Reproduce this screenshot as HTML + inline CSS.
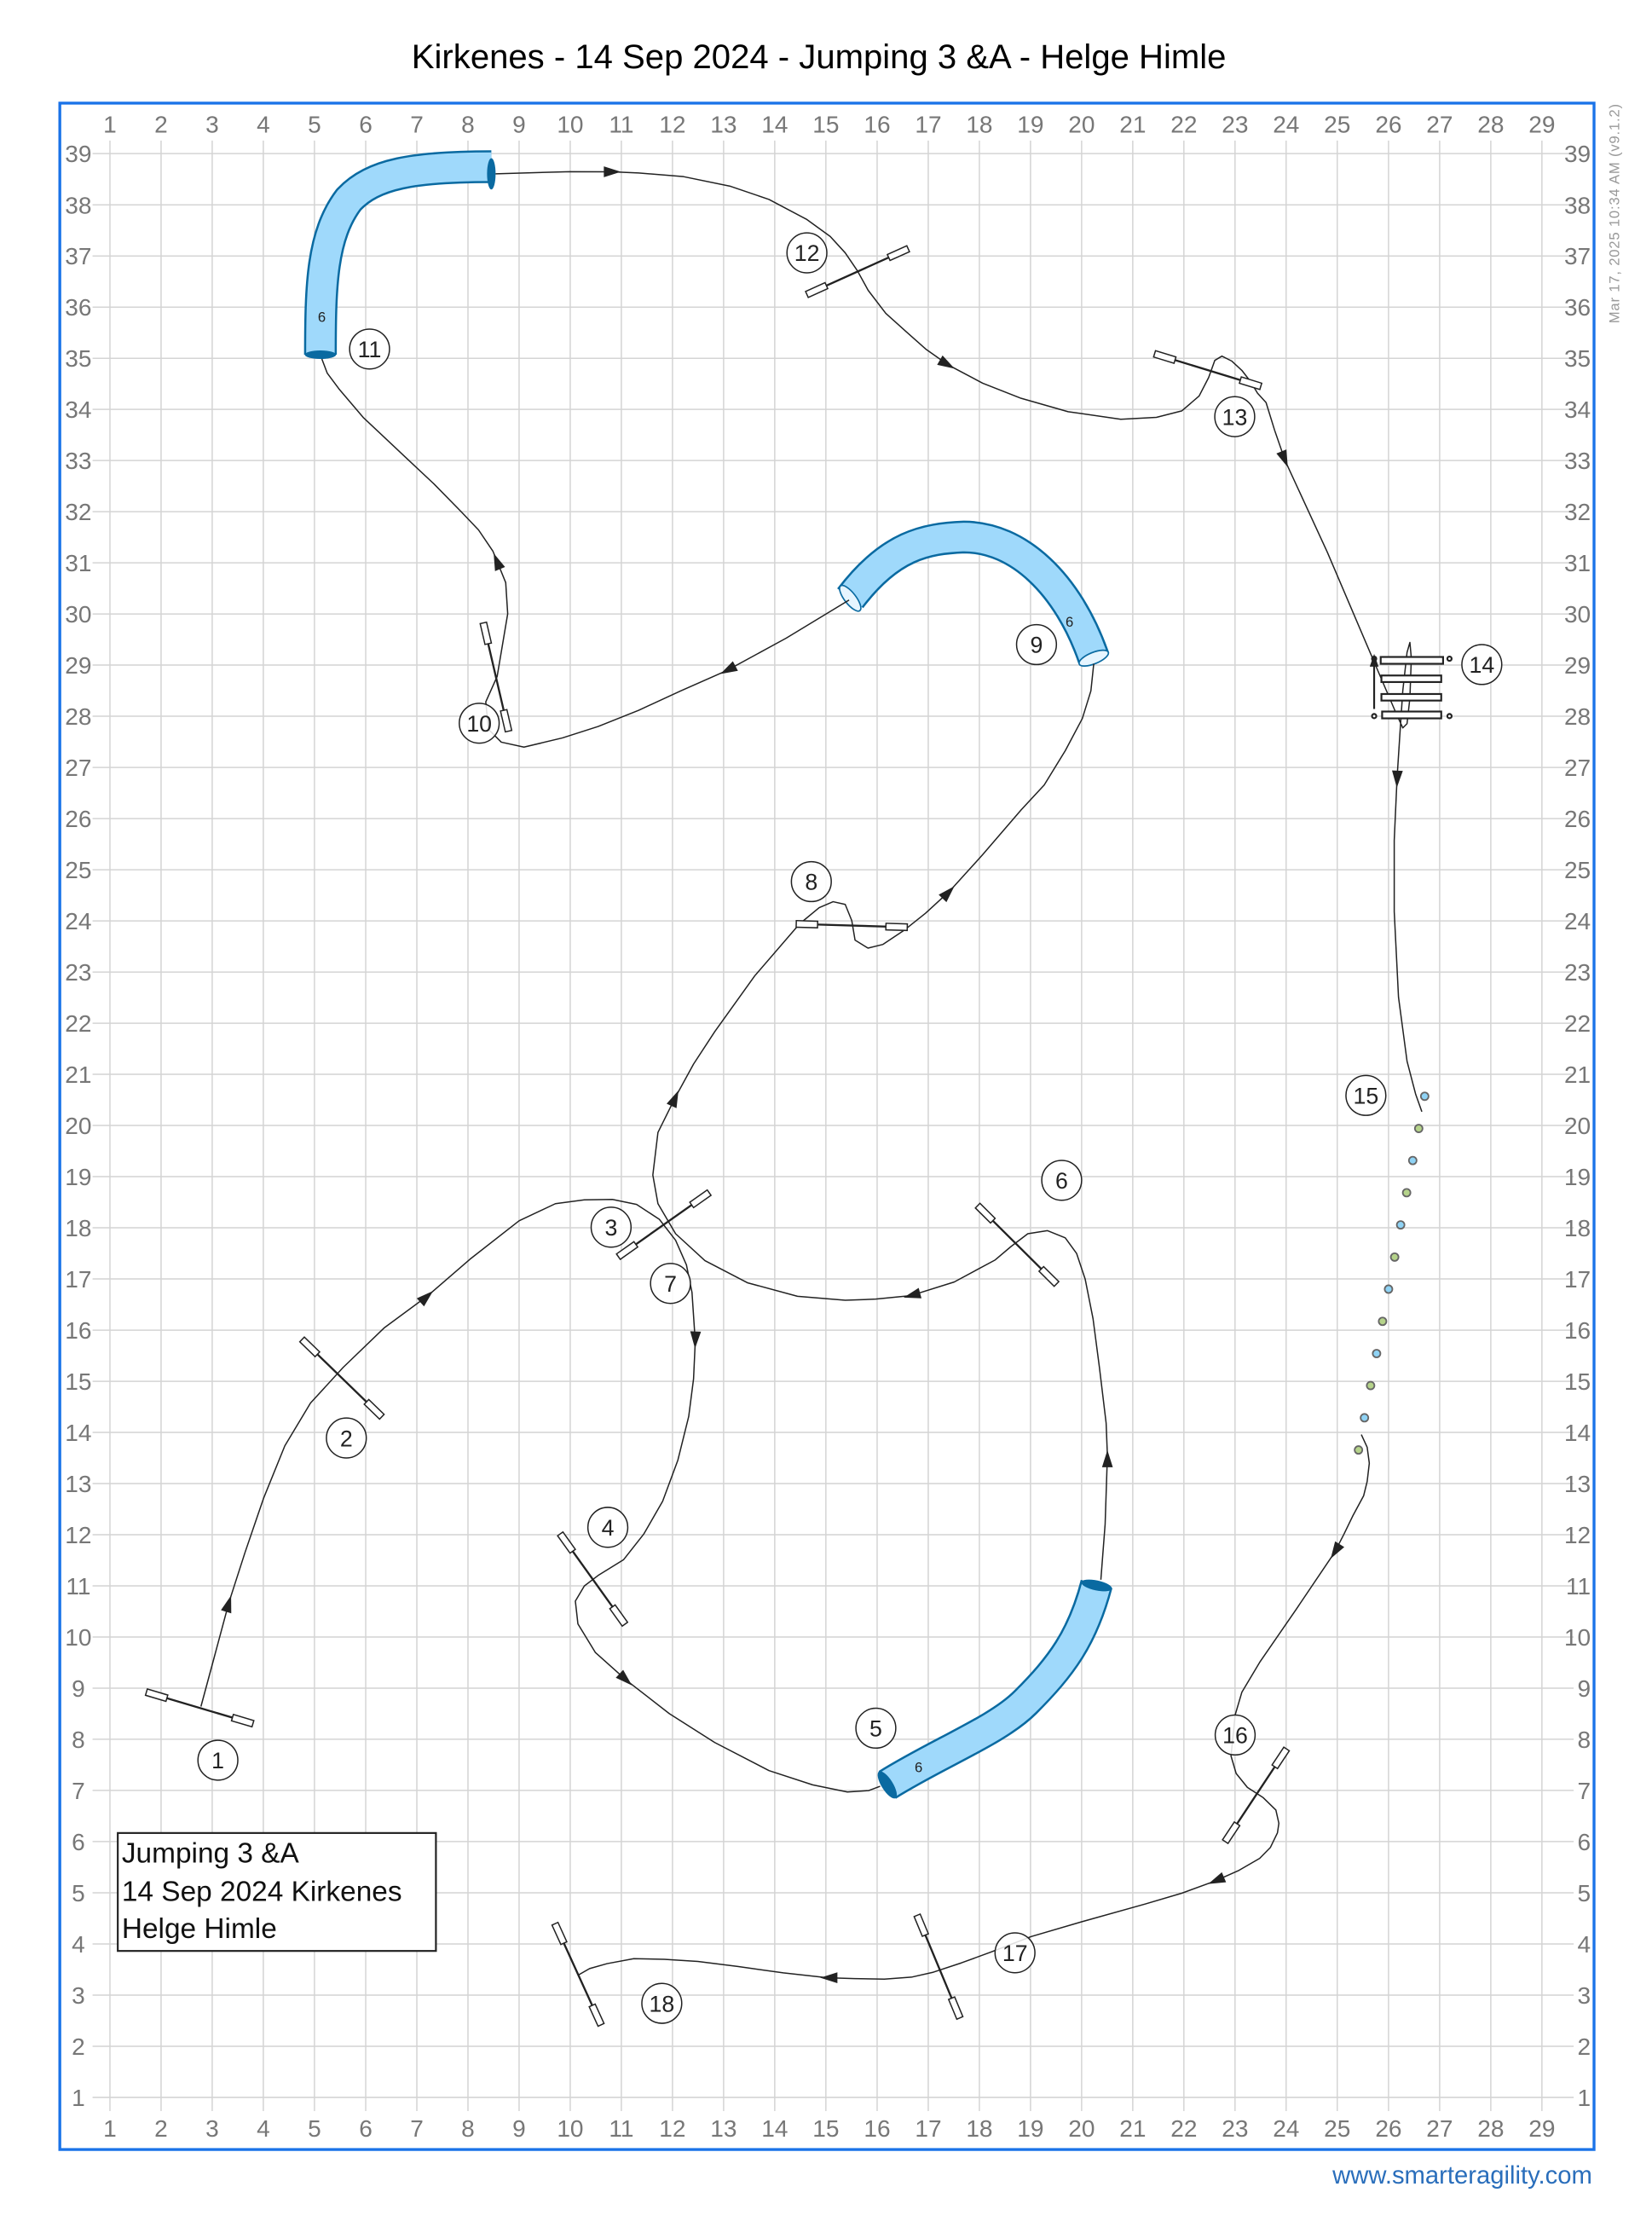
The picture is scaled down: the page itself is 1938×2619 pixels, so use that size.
<!DOCTYPE html>
<html><head><meta charset="utf-8"><style>
html,body{margin:0;padding:0;background:#fff}
svg{display:block}
text{font-family:"Liberation Sans",Arial,sans-serif}
</style></head><body>
<svg xmlns="http://www.w3.org/2000/svg" width="1938" height="2619" viewBox="0 0 1160 1567.6">
<rect x="0" y="0" width="1160" height="1567.6" fill="#fff"/>
<text x="575" y="48" font-size="24" text-anchor="middle" fill="#000">Kirkenes - 14 Sep 2024 - Jumping 3 &amp;A - Helge Himle</text>
<text transform="translate(1137,150) rotate(-90)" font-size="10" text-anchor="middle" fill="#999" textLength="154">Mar 17, 2025 10:34 AM  (v9.1.2)</text>
<text x="1118" y="1533" font-size="17.5" text-anchor="end" fill="#2a6ebb">www.smarteragility.com</text>

<g id="grid" stroke="#d4d4d4" stroke-width="0.9">
<g id="vl"></g>
</g>
<g stroke="#d4d4d4" stroke-width="0.9">
<line x1="77.2" y1="98.7" x2="77.2" y2="1482"/><line x1="113.1" y1="98.7" x2="113.1" y2="1482"/><line x1="149" y1="98.7" x2="149" y2="1482"/><line x1="184.9" y1="98.7" x2="184.9" y2="1482"/><line x1="220.8" y1="98.7" x2="220.8" y2="1482"/><line x1="256.8" y1="98.7" x2="256.8" y2="1482"/><line x1="292.7" y1="98.7" x2="292.7" y2="1482"/><line x1="328.6" y1="98.7" x2="328.6" y2="1482"/><line x1="364.5" y1="98.7" x2="364.5" y2="1482"/><line x1="400.4" y1="98.7" x2="400.4" y2="1482"/><line x1="436.3" y1="98.7" x2="436.3" y2="1482"/><line x1="472.2" y1="98.7" x2="472.2" y2="1482"/><line x1="508.1" y1="98.7" x2="508.1" y2="1482"/><line x1="544" y1="98.7" x2="544" y2="1482"/><line x1="579.9" y1="98.7" x2="579.9" y2="1482"/><line x1="615.9" y1="98.7" x2="615.9" y2="1482"/><line x1="651.8" y1="98.7" x2="651.8" y2="1482"/><line x1="687.7" y1="98.7" x2="687.7" y2="1482"/><line x1="723.6" y1="98.7" x2="723.6" y2="1482"/><line x1="759.5" y1="98.7" x2="759.5" y2="1482"/><line x1="795.4" y1="98.7" x2="795.4" y2="1482"/><line x1="831.3" y1="98.7" x2="831.3" y2="1482"/><line x1="867.2" y1="98.7" x2="867.2" y2="1482"/><line x1="903.1" y1="98.7" x2="903.1" y2="1482"/><line x1="939" y1="98.7" x2="939" y2="1482"/><line x1="975" y1="98.7" x2="975" y2="1482"/><line x1="1010.9" y1="98.7" x2="1010.9" y2="1482"/><line x1="1046.8" y1="98.7" x2="1046.8" y2="1482"/><line x1="1082.7" y1="98.7" x2="1082.7" y2="1482"/>
<line x1="65" y1="1472.4" x2="1105" y2="1472.4"/><line x1="65" y1="1436.5" x2="1105" y2="1436.5"/><line x1="65" y1="1400.6" x2="1105" y2="1400.6"/><line x1="65" y1="1364.7" x2="1105" y2="1364.7"/><line x1="65" y1="1328.8" x2="1105" y2="1328.8"/><line x1="65" y1="1292.8" x2="1105" y2="1292.8"/><line x1="65" y1="1256.9" x2="1105" y2="1256.9"/><line x1="65" y1="1221" x2="1105" y2="1221"/><line x1="65" y1="1185.1" x2="1105" y2="1185.1"/><line x1="65" y1="1149.2" x2="1105" y2="1149.2"/><line x1="65" y1="1113.3" x2="1105" y2="1113.3"/><line x1="65" y1="1077.4" x2="1105" y2="1077.4"/><line x1="65" y1="1041.5" x2="1105" y2="1041.5"/><line x1="65" y1="1005.6" x2="1105" y2="1005.6"/><line x1="65" y1="969.7" x2="1105" y2="969.7"/><line x1="65" y1="933.8" x2="1105" y2="933.8"/><line x1="65" y1="897.8" x2="1105" y2="897.8"/><line x1="65" y1="861.9" x2="1105" y2="861.9"/><line x1="65" y1="826" x2="1105" y2="826"/><line x1="65" y1="790.1" x2="1105" y2="790.1"/><line x1="65" y1="754.2" x2="1105" y2="754.2"/><line x1="65" y1="718.3" x2="1105" y2="718.3"/><line x1="65" y1="682.4" x2="1105" y2="682.4"/><line x1="65" y1="646.5" x2="1105" y2="646.5"/><line x1="65" y1="610.6" x2="1105" y2="610.6"/><line x1="65" y1="574.7" x2="1105" y2="574.7"/><line x1="65" y1="538.8" x2="1105" y2="538.8"/><line x1="65" y1="502.8" x2="1105" y2="502.8"/><line x1="65" y1="466.9" x2="1105" y2="466.9"/><line x1="65" y1="431" x2="1105" y2="431"/><line x1="65" y1="395.1" x2="1105" y2="395.1"/><line x1="65" y1="359.2" x2="1105" y2="359.2"/><line x1="65" y1="323.3" x2="1105" y2="323.3"/><line x1="65" y1="287.4" x2="1105" y2="287.4"/><line x1="65" y1="251.5" x2="1105" y2="251.5"/><line x1="65" y1="215.6" x2="1105" y2="215.6"/><line x1="65" y1="179.7" x2="1105" y2="179.7"/><line x1="65" y1="143.8" x2="1105" y2="143.8"/><line x1="65" y1="107.8" x2="1105" y2="107.8"/>
</g>

<g font-size="16.8" fill="#777" text-anchor="middle">
<text x="77.2" y="93">1</text><text x="113.1" y="93">2</text><text x="149" y="93">3</text><text x="184.9" y="93">4</text><text x="220.8" y="93">5</text><text x="256.8" y="93">6</text><text x="292.7" y="93">7</text><text x="328.6" y="93">8</text><text x="364.5" y="93">9</text><text x="400.4" y="93">10</text><text x="436.3" y="93">11</text><text x="472.2" y="93">12</text><text x="508.1" y="93">13</text><text x="544" y="93">14</text><text x="579.9" y="93">15</text><text x="615.9" y="93">16</text><text x="651.8" y="93">17</text><text x="687.7" y="93">18</text><text x="723.6" y="93">19</text><text x="759.5" y="93">20</text><text x="795.4" y="93">21</text><text x="831.3" y="93">22</text><text x="867.2" y="93">23</text><text x="903.1" y="93">24</text><text x="939" y="93">25</text><text x="975" y="93">26</text><text x="1010.9" y="93">27</text><text x="1046.8" y="93">28</text><text x="1082.7" y="93">29</text>
<text x="77.2" y="1500">1</text><text x="113.1" y="1500">2</text><text x="149" y="1500">3</text><text x="184.9" y="1500">4</text><text x="220.8" y="1500">5</text><text x="256.8" y="1500">6</text><text x="292.7" y="1500">7</text><text x="328.6" y="1500">8</text><text x="364.5" y="1500">9</text><text x="400.4" y="1500">10</text><text x="436.3" y="1500">11</text><text x="472.2" y="1500">12</text><text x="508.1" y="1500">13</text><text x="544" y="1500">14</text><text x="579.9" y="1500">15</text><text x="615.9" y="1500">16</text><text x="651.8" y="1500">17</text><text x="687.7" y="1500">18</text><text x="723.6" y="1500">19</text><text x="759.5" y="1500">20</text><text x="795.4" y="1500">21</text><text x="831.3" y="1500">22</text><text x="867.2" y="1500">23</text><text x="903.1" y="1500">24</text><text x="939" y="1500">25</text><text x="975" y="1500">26</text><text x="1010.9" y="1500">27</text><text x="1046.8" y="1500">28</text><text x="1082.7" y="1500">29</text>
</g>
<g font-size="16.8" fill="#777" text-anchor="middle">
<text x="55" y="1478.4">1</text><text x="55" y="1442.5">2</text><text x="55" y="1406.6">3</text><text x="55" y="1370.7">4</text><text x="55" y="1334.8">5</text><text x="55" y="1298.8">6</text><text x="55" y="1262.9">7</text><text x="55" y="1227">8</text><text x="55" y="1191.1">9</text><text x="55" y="1155.2">10</text><text x="55" y="1119.3">11</text><text x="55" y="1083.4">12</text><text x="55" y="1047.5">13</text><text x="55" y="1011.6">14</text><text x="55" y="975.7">15</text><text x="55" y="939.8">16</text><text x="55" y="903.8">17</text><text x="55" y="867.9">18</text><text x="55" y="832">19</text><text x="55" y="796.1">20</text><text x="55" y="760.2">21</text><text x="55" y="724.3">22</text><text x="55" y="688.4">23</text><text x="55" y="652.5">24</text><text x="55" y="616.6">25</text><text x="55" y="580.7">26</text><text x="55" y="544.8">27</text><text x="55" y="508.8">28</text><text x="55" y="472.9">29</text><text x="55" y="437">30</text><text x="55" y="401.1">31</text><text x="55" y="365.2">32</text><text x="55" y="329.3">33</text><text x="55" y="293.4">34</text><text x="55" y="257.5">35</text><text x="55" y="221.6">36</text><text x="55" y="185.7">37</text><text x="55" y="149.8">38</text><text x="55" y="113.8">39</text>
</g>
<g font-size="16.8" fill="#777" text-anchor="end">
<text x="1117" y="1478.4">1</text><text x="1117" y="1442.5">2</text><text x="1117" y="1406.6">3</text><text x="1117" y="1370.7">4</text><text x="1117" y="1334.8">5</text><text x="1117" y="1298.8">6</text><text x="1117" y="1262.9">7</text><text x="1117" y="1227">8</text><text x="1117" y="1191.1">9</text><text x="1117" y="1155.2">10</text><text x="1117" y="1119.3">11</text><text x="1117" y="1083.4">12</text><text x="1117" y="1047.5">13</text><text x="1117" y="1011.6">14</text><text x="1117" y="975.7">15</text><text x="1117" y="939.8">16</text><text x="1117" y="903.8">17</text><text x="1117" y="867.9">18</text><text x="1117" y="832">19</text><text x="1117" y="796.1">20</text><text x="1117" y="760.2">21</text><text x="1117" y="724.3">22</text><text x="1117" y="688.4">23</text><text x="1117" y="652.5">24</text><text x="1117" y="616.6">25</text><text x="1117" y="580.7">26</text><text x="1117" y="544.8">27</text><text x="1117" y="508.8">28</text><text x="1117" y="472.9">29</text><text x="1117" y="437">30</text><text x="1117" y="401.1">31</text><text x="1117" y="365.2">32</text><text x="1117" y="329.3">33</text><text x="1117" y="293.4">34</text><text x="1117" y="257.5">35</text><text x="1117" y="221.6">36</text><text x="1117" y="185.7">37</text><text x="1117" y="149.8">38</text><text x="1117" y="113.8">39</text>
</g>

<rect x="42" y="72.4" width="1077.3" height="1436.6" fill="none" stroke="#1a73e8" stroke-width="2"/>

<!-- Legend -->
<rect x="82.7" y="1286.8" width="223.4" height="82.8" fill="#fff" stroke="#222" stroke-width="1.3"/>
<g font-size="20" fill="#111">
<text x="85.5" y="1307.6">Jumping 3 &amp;A</text>
<text x="85.5" y="1334.6">14 Sep 2024 Kirkenes</text>
<text x="85.5" y="1360.5">Helge Himle</text>
</g>

<!-- Tunnels -->
<g fill="none" stroke-linecap="butt" stroke-linejoin="round">
<path d="M225,249 C225,200 226,165 245,140 C262,122 290,117 345,117" stroke="#0a6aa1" stroke-width="23"/>
<path d="M225,249 C225,200 226,165 245,140 C262,122 290,117 345,117" stroke="#9fd9fb" stroke-width="20"/>
<path d="M597,420 C625,383 650,378 677,377 C715,377 750,410 768,462" stroke="#0a6aa1" stroke-width="23"/>
<path d="M597,420 C625,383 650,378 677,377 C715,377 750,410 768,462" stroke="#9fd9fb" stroke-width="20"/>
<path d="M623,1253 C660,1230 700,1215 720,1195 C745,1170 760,1150 770,1112" stroke="#0a6aa1" stroke-width="23"/>
<path d="M623,1253 C660,1230 700,1215 720,1195 C745,1170 760,1150 770,1112" stroke="#9fd9fb" stroke-width="20"/>
</g>
<ellipse cx="225" cy="249" rx="11" ry="3" fill="#0a6aa1"/>
<ellipse cx="345" cy="122" rx="3" ry="11" fill="#0a6aa1"/>
<ellipse cx="597" cy="420" rx="4" ry="11" transform="rotate(-38 597 420)" fill="#e6f5ff" stroke="#0a6aa1" stroke-width="1"/>
<ellipse cx="768" cy="462" rx="11" ry="4" transform="rotate(-22 768 462)" fill="#e6f5ff" stroke="#0a6aa1" stroke-width="1"/>
<ellipse cx="623" cy="1253" rx="4" ry="11" transform="rotate(-32 623 1253)" fill="#0a6aa1"/>
<ellipse cx="770" cy="1113" rx="11" ry="3.5" transform="rotate(12 770 1113)" fill="#0a6aa1"/>
<g font-size="10" fill="#222" text-anchor="middle">
<text x="226" y="226">6</text><text x="751" y="440">6</text><text x="645" y="1244">6</text>
</g>

<!-- Course path -->
<g fill="none" stroke="#222" stroke-width="0.9" stroke-linejoin="round">
<polyline points="141.1,1198 150,1165 160.8,1124.8 172,1090 185,1052 200,1015 218,985 240.9,960 270,932 300.4,909.6 330,884 364.5,857 390,845 410.3,842.3 430,842 447,845.5 463,856 474.4,870.7 482,888 485.9,907.3 488.2,941.7 487,968 483.6,994.4 476,1025 465.3,1053.9 452,1077 437.8,1095 420,1106 410.3,1113.4 404,1124 405.8,1140 418,1160 440.1,1179.8 470,1203 501.9,1223.3 540,1243 570.6,1253 595,1258 610,1257 618,1254"/>
<polyline points="773,1109 776,1070 777.6,1021.8 776.7,999 772,960 767.5,925.7 762,898 756,880 748,869 735.4,863.9 721.7,866.1 710,875 698.8,884.5 670,900 639.3,909.6 615,912 593.5,912.8 560,910 524.8,900.5 495,885 474.4,866.1 462,845 458.4,824.9 462,795 474.4,770 487,747 501.9,724.2 530,685 561.4,648.6 575.2,637.2 585,633 593.5,634.9 598.1,646.3 600.4,660 609.5,665.6 620,663 634.7,653.2 650,641 666.7,625.7 690,600 717.1,568.5 733.2,551.1 748,527 760,504.4 766,485 768,466"/>
<polyline points="596.2,421.2 552,448 510.2,470.8 478,485 448.5,498.6 420,510 395,518 367.9,524.5 352,521 343,512 341.1,492.7 349.1,474.8 356.5,430.9 355.1,409 346.1,386.9 336,372 323.6,359 305,340 287.3,323.4 255,293 238,273 229.8,262 226,252"/>
<polyline points="348,122 400,120.5 429.7,120.6 448.5,121.4 480,124 513,130.8 540,140 566.6,154.1 583,166 593.5,177.5 602,190 609.6,203.8 622,220 636.5,233 650,245 666,256.3 690,269 717,279.6 750,289 787,294.3 812,293 829.9,288.4 842,278 848.7,265 853,253 858,250 864.8,253.4 872,260 878.2,268 883,276 889,282.6 895,302 902.4,323.4 932,387.6 966.9,469.4 980,500 985,511 988,508 990,490 991,462 990,451 988,458 985,485 983,515 981,546 979,590 979,640 982,700 988,745 994,768 998.4,780.4"/>
<polyline points="955.9,1007.1 960,1016 961.5,1027.2 960,1040 957.5,1050.1 950,1064 943.6,1077.2 937,1090 910,1130 884.5,1167 872,1188 867.3,1203.9 864.4,1232.8 868,1245 875.9,1254.8 887,1262 895.9,1270.7 898,1280 897,1286.7 892,1297 884.5,1304.6 870,1313 853,1320.6 830,1329 804.3,1336.6 760,1349 724.1,1359.5 695.5,1370.5 675,1378 655.4,1384.5 640,1388 621,1389.4 600,1389 581,1388.4 550,1385 518,1380.5 490,1377 466.4,1375.5 445,1375 426.3,1378.5 414,1382 406.3,1386.4"/>
</g>

<!-- Arrowheads -->
<g fill="#222">
<path d="M5,0 L-7,-3.8 L-7,3.8 Z" transform="translate(160.8,1124.8) rotate(-73)"/>
<path d="M5,0 L-7,-3.8 L-7,3.8 Z" transform="translate(300.4,909.6) rotate(-42)"/>
<path d="M5,0 L-7,-3.8 L-7,3.8 Z" transform="translate(488.2,941.7) rotate(92)"/>
<path d="M5,0 L-7,-3.8 L-7,3.8 Z" transform="translate(440.1,1179.8) rotate(43)"/>
<path d="M5,0 L-7,-3.8 L-7,3.8 Z" transform="translate(777.6,1023) rotate(-90)"/>
<path d="M5,0 L-7,-3.8 L-7,3.8 Z" transform="translate(639.3,909.6) rotate(165)"/>
<path d="M5,0 L-7,-3.8 L-7,3.8 Z" transform="translate(474.4,770) rotate(-66)"/>
<path d="M5,0 L-7,-3.8 L-7,3.8 Z" transform="translate(666.7,625.7) rotate(-46)"/>
<path d="M5,0 L-7,-3.8 L-7,3.8 Z" transform="translate(510.2,470.8) rotate(152)"/>
<path d="M5,0 L-7,-3.8 L-7,3.8 Z" transform="translate(348.5,393) rotate(-112)"/>
<path d="M5,0 L-7,-3.8 L-7,3.8 Z" transform="translate(431,120.6) rotate(0)"/>
<path d="M5,0 L-7,-3.8 L-7,3.8 Z" transform="translate(666,256.3) rotate(30)"/>
<path d="M5,0 L-7,-3.8 L-7,3.8 Z" transform="translate(902.4,323.4) rotate(68)"/>
<path d="M5,0 L-7,-3.8 L-7,3.8 Z" transform="translate(981,548) rotate(92)"/>
<path d="M5,0 L-7,-3.8 L-7,3.8 Z" transform="translate(937,1090) rotate(122)"/>
<path d="M5,0 L-7,-3.8 L-7,3.8 Z" transform="translate(853,1320.6) rotate(157)"/>
<path d="M5,0 L-7,-3.8 L-7,3.8 Z" transform="translate(581,1388.4) rotate(180)"/>
</g>

<!-- Jumps -->
<g stroke="#222" fill="#fff">
<g transform="translate(102.8,1187.9) rotate(16.5)"><line x1="0" y1="0" x2="78" y2="0" stroke-width="1.4"/><rect x="0" y="-2.3" width="15" height="4.6" stroke-width="0.9"/><rect x="63" y="-2.3" width="15" height="4.6" stroke-width="0.9"/></g>
<g transform="translate(212.1,940.3) rotate(44.1)"><line x1="0" y1="0" x2="78" y2="0" stroke-width="1.4"/><rect x="0" y="-2.3" width="15" height="4.6" stroke-width="0.9"/><rect x="63" y="-2.3" width="15" height="4.6" stroke-width="0.9"/></g>
<g transform="translate(434.2,882.2) rotate(-35.2)"><line x1="0" y1="0" x2="78" y2="0" stroke-width="1.4"/><rect x="0" y="-2.3" width="15" height="4.6" stroke-width="0.9"/><rect x="63" y="-2.3" width="15" height="4.6" stroke-width="0.9"/></g>
<g transform="translate(393.4,1076.8) rotate(54.4)"><line x1="0" y1="0" x2="78" y2="0" stroke-width="1.4"/><rect x="0" y="-2.3" width="15" height="4.6" stroke-width="0.9"/><rect x="63" y="-2.3" width="15" height="4.6" stroke-width="0.9"/></g>
<g transform="translate(686.5,846.4) rotate(44.8)"><line x1="0" y1="0" x2="78" y2="0" stroke-width="1.4"/><rect x="0" y="-2.3" width="15" height="4.6" stroke-width="0.9"/><rect x="63" y="-2.3" width="15" height="4.6" stroke-width="0.9"/></g>
<g transform="translate(559.1,648.6) rotate(1.7)"><line x1="0" y1="0" x2="78" y2="0" stroke-width="1.4"/><rect x="0" y="-2.3" width="15" height="4.6" stroke-width="0.9"/><rect x="63" y="-2.3" width="15" height="4.6" stroke-width="0.9"/></g>
<g transform="translate(339.4,437.3) rotate(76.9)"><line x1="0" y1="0" x2="78" y2="0" stroke-width="1.4"/><rect x="0" y="-2.3" width="15" height="4.6" stroke-width="0.9"/><rect x="63" y="-2.3" width="15" height="4.6" stroke-width="0.9"/></g>
<g transform="translate(566.6,206.7) rotate(-24.3)"><line x1="0" y1="0" x2="78" y2="0" stroke-width="1.4"/><rect x="0" y="-2.3" width="15" height="4.6" stroke-width="0.9"/><rect x="63" y="-2.3" width="15" height="4.6" stroke-width="0.9"/></g>
<g transform="translate(810.7,248.4) rotate(17)"><line x1="0" y1="0" x2="78" y2="0" stroke-width="1.4"/><rect x="0" y="-2.3" width="15" height="4.6" stroke-width="0.9"/><rect x="63" y="-2.3" width="15" height="4.6" stroke-width="0.9"/></g>
<g transform="translate(903.4,1227.8) rotate(123.5)"><line x1="0" y1="0" x2="78" y2="0" stroke-width="1.4"/><rect x="0" y="-2.3" width="15" height="4.6" stroke-width="0.9"/><rect x="63" y="-2.3" width="15" height="4.6" stroke-width="0.9"/></g>
<g transform="translate(644,1344.6) rotate(67.4)"><line x1="0" y1="0" x2="78" y2="0" stroke-width="1.4"/><rect x="0" y="-2.3" width="15" height="4.6" stroke-width="0.9"/><rect x="63" y="-2.3" width="15" height="4.6" stroke-width="0.9"/></g>
<g transform="translate(389.7,1350.5) rotate(65.5)"><line x1="0" y1="0" x2="78" y2="0" stroke-width="1.4"/><rect x="0" y="-2.3" width="15" height="4.6" stroke-width="0.9"/><rect x="63" y="-2.3" width="15" height="4.6" stroke-width="0.9"/></g>
</g>

<!-- Spread jump 14 -->
<g stroke="#222" stroke-width="1.3" fill="#fff">
<rect x="969.5" y="461.2" width="43.8" height="4.8"/>
<rect x="970" y="474.2" width="42" height="4.6"/>
<rect x="970" y="487.2" width="42" height="4.6"/>
<rect x="970.5" y="499.5" width="41.5" height="4.8"/>
<circle cx="964.9" cy="462.4" r="1.5"/><circle cx="1017.8" cy="462.4" r="1.5"/>
<circle cx="964.9" cy="502.7" r="1.5"/><circle cx="1017.8" cy="502.7" r="1.5"/>
<line x1="964.9" y1="497.7" x2="964.9" y2="467"/>
</g>
<path d="M964.9,459 L961.8,468 L968,468 Z" fill="#222"/>

<!-- Weave 15 -->
<g stroke="#666" stroke-width="1.1">
<circle cx="1000.4" cy="769.6" r="2.7" fill="#8fd3f5"/>
<circle cx="996.2" cy="792.2" r="2.7" fill="#b5d38a"/>
<circle cx="992" cy="814.7" r="2.7" fill="#8fd3f5"/>
<circle cx="987.7" cy="837.3" r="2.7" fill="#b5d38a"/>
<circle cx="983.5" cy="859.9" r="2.7" fill="#8fd3f5"/>
<circle cx="979.3" cy="882.5" r="2.7" fill="#b5d38a"/>
<circle cx="975" cy="905" r="2.7" fill="#8fd3f5"/>
<circle cx="970.8" cy="927.6" r="2.7" fill="#b5d38a"/>
<circle cx="966.6" cy="950.2" r="2.7" fill="#8fd3f5"/>
<circle cx="962.4" cy="972.7" r="2.7" fill="#b5d38a"/>
<circle cx="958.1" cy="995.3" r="2.7" fill="#8fd3f5"/>
<circle cx="953.9" cy="1017.9" r="2.7" fill="#b5d38a"/>
</g>

<!-- Number circles -->
<g stroke="#222" stroke-width="0.9" fill="#fff" fill-opacity="0.85">
<circle cx="153" cy="1235.7" r="14"/>
<circle cx="243.2" cy="1009.5" r="14"/>
<circle cx="429.1" cy="861.5" r="14"/>
<circle cx="426.8" cy="1072.2" r="14"/>
<circle cx="615" cy="1213.2" r="14"/>
<circle cx="745.5" cy="828.6" r="14"/>
<circle cx="470.8" cy="901" r="14"/>
<circle cx="569.7" cy="618.9" r="14"/>
<circle cx="727.8" cy="452.5" r="14"/>
<circle cx="336.5" cy="507.7" r="14"/>
<circle cx="259.5" cy="245" r="14"/>
<circle cx="566.6" cy="177.5" r="14"/>
<circle cx="867" cy="292.5" r="14"/>
<circle cx="1040.5" cy="466.5" r="14"/>
<circle cx="959.1" cy="769" r="14"/>
<circle cx="867.3" cy="1218" r="14"/>
<circle cx="712.7" cy="1370.9" r="14"/>
<circle cx="464.7" cy="1406.4" r="14"/>
</g>
<g font-size="16" fill="#222" text-anchor="middle">
<text x="153" y="1241.5">1</text>
<text x="243.2" y="1015.3">2</text>
<text x="429.1" y="867.3">3</text>
<text x="426.8" y="1078">4</text>
<text x="615" y="1219">5</text>
<text x="745.5" y="834.4">6</text>
<text x="470.8" y="906.8">7</text>
<text x="569.7" y="624.7">8</text>
<text x="727.8" y="458.3">9</text>
<text x="336.5" y="513.5">10</text>
<text x="259.5" y="250.8">11</text>
<text x="566.6" y="183.3">12</text>
<text x="867" y="298.3">13</text>
<text x="1040.5" y="472.3">14</text>
<text x="959.1" y="774.8">15</text>
<text x="867.3" y="1223.8">16</text>
<text x="712.7" y="1376.7">17</text>
<text x="464.7" y="1412.2">18</text>
</g>
</svg>
</body></html>
